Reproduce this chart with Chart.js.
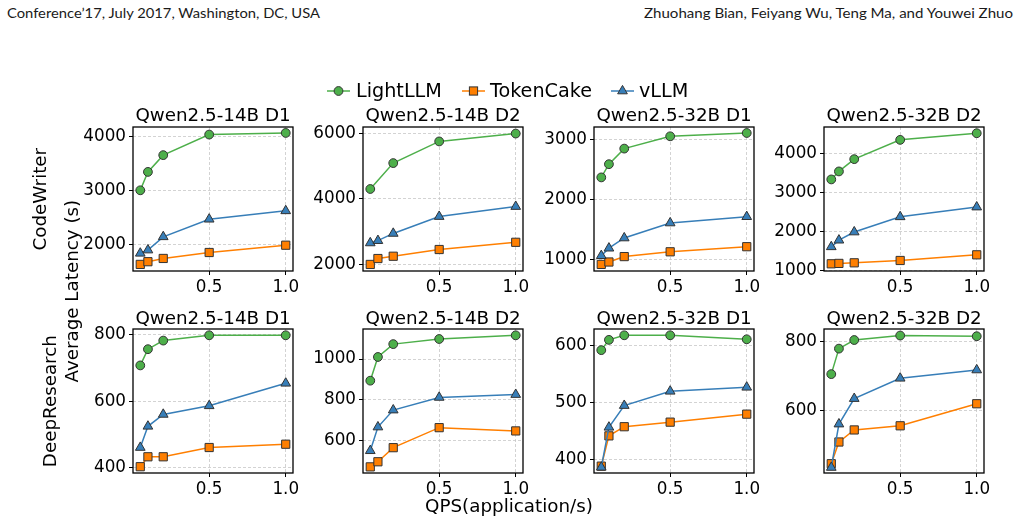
<!DOCTYPE html>
<html><head><meta charset="utf-8">
<script src="https://cdn.jsdelivr.net/npm/chart.js@4.4.1/dist/chart.umd.min.js"></script>
<style>
html,body{margin:0;padding:0;background:#fff;}
body{width:1020px;height:523px;position:relative;overflow:hidden;font-family:'DejaVu Sans',sans-serif;}
canvas{position:absolute;}
.t{position:absolute;white-space:nowrap;line-height:1;color:#000;}
</style></head><body>
<script>
// ---------------- data ----------------
const qps = [0.05, 0.1, 0.2, 0.5, 1.0];
const seriesNames = ['LightLLM', 'TokenCake', 'vLLM'];
const workloads = ['CodeWriter', 'DeepResearch'];
const panelTitles = ['Qwen2.5-14B D1', 'Qwen2.5-14B D2', 'Qwen2.5-32B D1', 'Qwen2.5-32B D2',
                     'Qwen2.5-14B D1', 'Qwen2.5-14B D2', 'Qwen2.5-32B D1', 'Qwen2.5-32B D2'];
const lightLLM = [
  [3000, 3340, 3650, 4030, 4060],
  [4300, null, 5090, 5750, 5990],
  [2365, 2585, 2845, 3050, 3105],
  [3335, 3540, 3855, 4350, 4520],
  [708, 757, 783, 799, 799],
  [894, 1010, 1073, 1098, 1116],
  [592, 610, 618, 618, 611],
  [705, 779, 804, 817, 815]
];
const tokenCake = [
  [1630, 1680, 1740, 1850, 1985],
  [2000, 2180, 2250, 2455, 2675],
  [915, 955, 1045, 1125, 1210],
  [1170, 1180, 1195, 1255, 1400],
  [402, 432, 432, 460, 470],
  [472, 497, 566, 664, 648],
  [389, 442, 458, 466, 480],
  [445, 508, 543, 555, 619]
];
const vLLMData = [
  [1835, 1895, 2140, 2465, 2620],
  [2655, 2725, 2945, 3460, 3765],
  [1060, 1185, 1355, 1605, 1710],
  [1605, 1775, 1985, 2375, 2625],
  [460, 524, 560, 586, 654],
  [551, 667, 750, 812, 826],
  [387, 457, 495, 520, 527],
  [434, 560, 634, 693, 717]
];
const yTickValues = [
  [2000, 3000, 4000], [2000, 4000, 6000], [1000, 2000, 3000], [1000, 2000, 3000, 4000],
  [400, 600, 800], [600, 800, 1000], [400, 500, 600], [600, 800]
];
const xTickValues = [0.5, 1.0];
const yLimits = [[1508, 4170], [1800, 6190], [805, 3205], [985, 4680],
                 [383, 818], [442, 1147], [377, 629], [418, 836]];
const xLimits = [0.0025, 1.0475];

// ---------------- styling / layout ----------------
const colors = ['#4daf4a', '#ff7f00', '#377eb8'];
const shapes = ['circle', 'rect', 'triangle'];
const radii = [4.4, 5.8, 5.6];
const edge = '#333';
const FONT = "'DejaVu Sans', sans-serif";
const colLeft = [133, 363, 594, 824];
const rowTop = [127, 329];
const areaW = 160, areaH = 144;
const SIDE = 70, XH = 32;
const titleGap = [2, 1];

const framePlugin = {
  id: 'frame',
  afterDraw(chart) {
    const {ctx, chartArea: a} = chart;
    ctx.save();
    ctx.strokeStyle = '#000';
    ctx.lineWidth = 1.3;
    ctx.strokeRect(a.left, a.top, a.right - a.left, a.bottom - a.top);
    ctx.restore();
  }
};

const allSeries = [lightLLM, tokenCake, vLLMData];

for (let i = 0; i < 8; i++) {
  const r = Math.floor(i / 4), c = i % 4;
  const titleBox = 18 + titleGap[r];
  const cv = document.createElement('canvas');
  const W = SIDE + areaW + SIDE, H = titleBox + areaH + XH;
  cv.width = W; cv.height = H;
  cv.style.left = (colLeft[c] - SIDE) + 'px';
  cv.style.top = (rowTop[r] - titleBox) + 'px';
  cv.style.width = W + 'px'; cv.style.height = H + 'px';
  document.body.appendChild(cv);

  const datasets = seriesNames.map((name, s) => ({
    label: name,
    data: qps.map((x, k) => ({x: x, y: allSeries[s][i][k]})),
    borderColor: colors[s],
    backgroundColor: colors[s],
    borderWidth: 1.5,
    pointStyle: shapes[s],
    pointRadius: radii[s],
    pointHoverRadius: radii[s],
    pointBackgroundColor: colors[s],
    pointBorderColor: edge,
    pointBorderWidth: 1,
    spanGaps: true,
    tension: 0,
    order: 2 - s
  }));

  const tickFont = {family: FONT, size: 16.8};
  const gridCommon = {color: '#c8c8c8', lineWidth: 0.8, tickColor: '#000', tickLength: 4, tickWidth: 1, tickBorderDash: []};

  new Chart(cv.getContext('2d'), {
    type: 'line',
    data: {datasets},
    options: {
      responsive: false, animation: false, devicePixelRatio: 1,
      layout: {padding: {left: 0, right: SIDE, top: 0, bottom: 0}},
      plugins: {
        legend: {display: false},
        tooltip: {enabled: false},
        title: {
          display: true, text: panelTitles[i], color: '#000', fullSize: false,
          font: {family: FONT, size: 18.3, weight: 'normal', lineHeight: '18px'},
          padding: {top: 0, bottom: titleGap[r]}
        }
      },
      scales: {
        x: {
          type: 'linear', min: xLimits[0], max: xLimits[1], bounds: 'data',
          afterFit: s => { s.height = XH; },
          afterBuildTicks: s => { s.ticks = xTickValues.map(v => ({value: v})); },
          ticks: {callback: v => Number(v).toFixed(1), font: tickFont, color: '#000', padding: 3, maxRotation: 0, autoSkip: false},
          grid: gridCommon,
          border: {display: false, dash: [3, 2]}
        },
        y: {
          type: 'linear', min: yLimits[i][0], max: yLimits[i][1], bounds: 'data',
          afterFit: s => { s.width = SIDE; },
          afterBuildTicks: s => { s.ticks = yTickValues[i].map(v => ({value: v})); },
          ticks: {callback: v => String(v), font: tickFont, color: '#000', padding: 3, autoSkip: false},
          grid: gridCommon,
          border: {display: false, dash: [3, 2]}
        }
      }
    },
    plugins: [framePlugin]
  });
}

// ---------------- text helpers ----------------
function addText(txt, opt) {
  const d = document.createElement('div');
  d.className = 't';
  d.textContent = txt;
  d.style.fontFamily = opt.family || FONT;
  d.style.fontSize = opt.size + 'px';
  if (opt.color) d.style.color = opt.color;
  document.body.appendChild(d);
  const rect = d.getBoundingClientRect();
  const w = rect.width, h = rect.height;
  if (opt.rotate) {
    d.style.left = (opt.x - w / 2) + 'px';
    d.style.top = (opt.y - h / 2) + 'px';
    d.style.transformOrigin = '50% 50%';
    d.style.transform = 'rotate(-90deg)';
    return d;
  }
  let sx = opt.fitWidth ? opt.fitWidth / w : 1;
  const ew = w * sx;
  let left = opt.x;
  if (opt.anchor === 'center') left = opt.x - ew / 2;
  else if (opt.anchor === 'right') left = opt.x - ew;
  d.style.left = left + 'px';
  d.style.top = (opt.y - h * (opt.capC || 0.48)) + 'px';
  d.style.transformOrigin = '0 0';
  if (sx !== 1) d.style.transform = 'scaleX(' + sx + ')';
  return d;
}

// page header
addText("Conference\u201917, July 2017, Washington, DC, USA", {x: 7, y: 13.5, size: 13, family: "Lato, 'Open Sans', sans-serif", color: '#1a1a1a', fitWidth: 313, capC: 0.53});
addText("Zhuohang Bian, Feiyang Wu, Teng Ma, and Youwei Zhuo", {x: 1013, y: 13.5, size: 13, family: "Lato, 'Open Sans', sans-serif", color: '#1a1a1a', fitWidth: 369, anchor: 'right', capC: 0.53});

// legend
const legendHandleX = [327, 461.5, 611];
const legendTextX = [356, 490, 639];
const legendY = 90.5;
const ns = 'http://www.w3.org/2000/svg';
seriesNames.forEach((name, s) => {
  const svg = document.createElementNS(ns, 'svg');
  svg.setAttribute('width', 24); svg.setAttribute('height', 16);
  svg.style.position = 'absolute';
  svg.style.left = legendHandleX[s] + 'px';
  svg.style.top = (legendY - 8) + 'px';
  const ln = document.createElementNS(ns, 'line');
  ln.setAttribute('x1', 0); ln.setAttribute('y1', 8); ln.setAttribute('x2', 23); ln.setAttribute('y2', 8);
  ln.setAttribute('stroke', colors[s]); ln.setAttribute('stroke-width', 1.5);
  svg.appendChild(ln);
  let m;
  if (shapes[s] === 'circle') {
    m = document.createElementNS(ns, 'circle');
    m.setAttribute('cx', 11.5); m.setAttribute('cy', 8); m.setAttribute('r', 4.4);
  } else if (shapes[s] === 'rect') {
    m = document.createElementNS(ns, 'rect');
    m.setAttribute('x', 11.5 - 4.1); m.setAttribute('y', 8 - 4.1); m.setAttribute('width', 8.2); m.setAttribute('height', 8.2);
  } else {
    m = document.createElementNS(ns, 'polygon');
    const R = 5.6;
    const pts = [[11.5, 8 - R], [11.5 + R * 0.866, 8 + R / 2], [11.5 - R * 0.866, 8 + R / 2]];
    m.setAttribute('points', pts.map(p => p.join(',')).join(' '));
  }
  m.setAttribute('fill', colors[s]); m.setAttribute('stroke', edge); m.setAttribute('stroke-width', 1);
  svg.appendChild(m);
  document.body.appendChild(svg);
  addText(name, {x: legendTextX[s], y: legendY, size: 19.2});
});

// axis labels
addText('QPS(application/s)', {x: 509, y: 505.5, size: 18.3, anchor: 'center'});
addText('Average Latency (s)', {x: 72, y: 291, size: 18.3, rotate: true});
addText(workloads[0], {x: 40, y: 199, size: 18.3, rotate: true});
addText(workloads[1], {x: 50, y: 401, size: 18.3, rotate: true});
</script>
</body></html>
